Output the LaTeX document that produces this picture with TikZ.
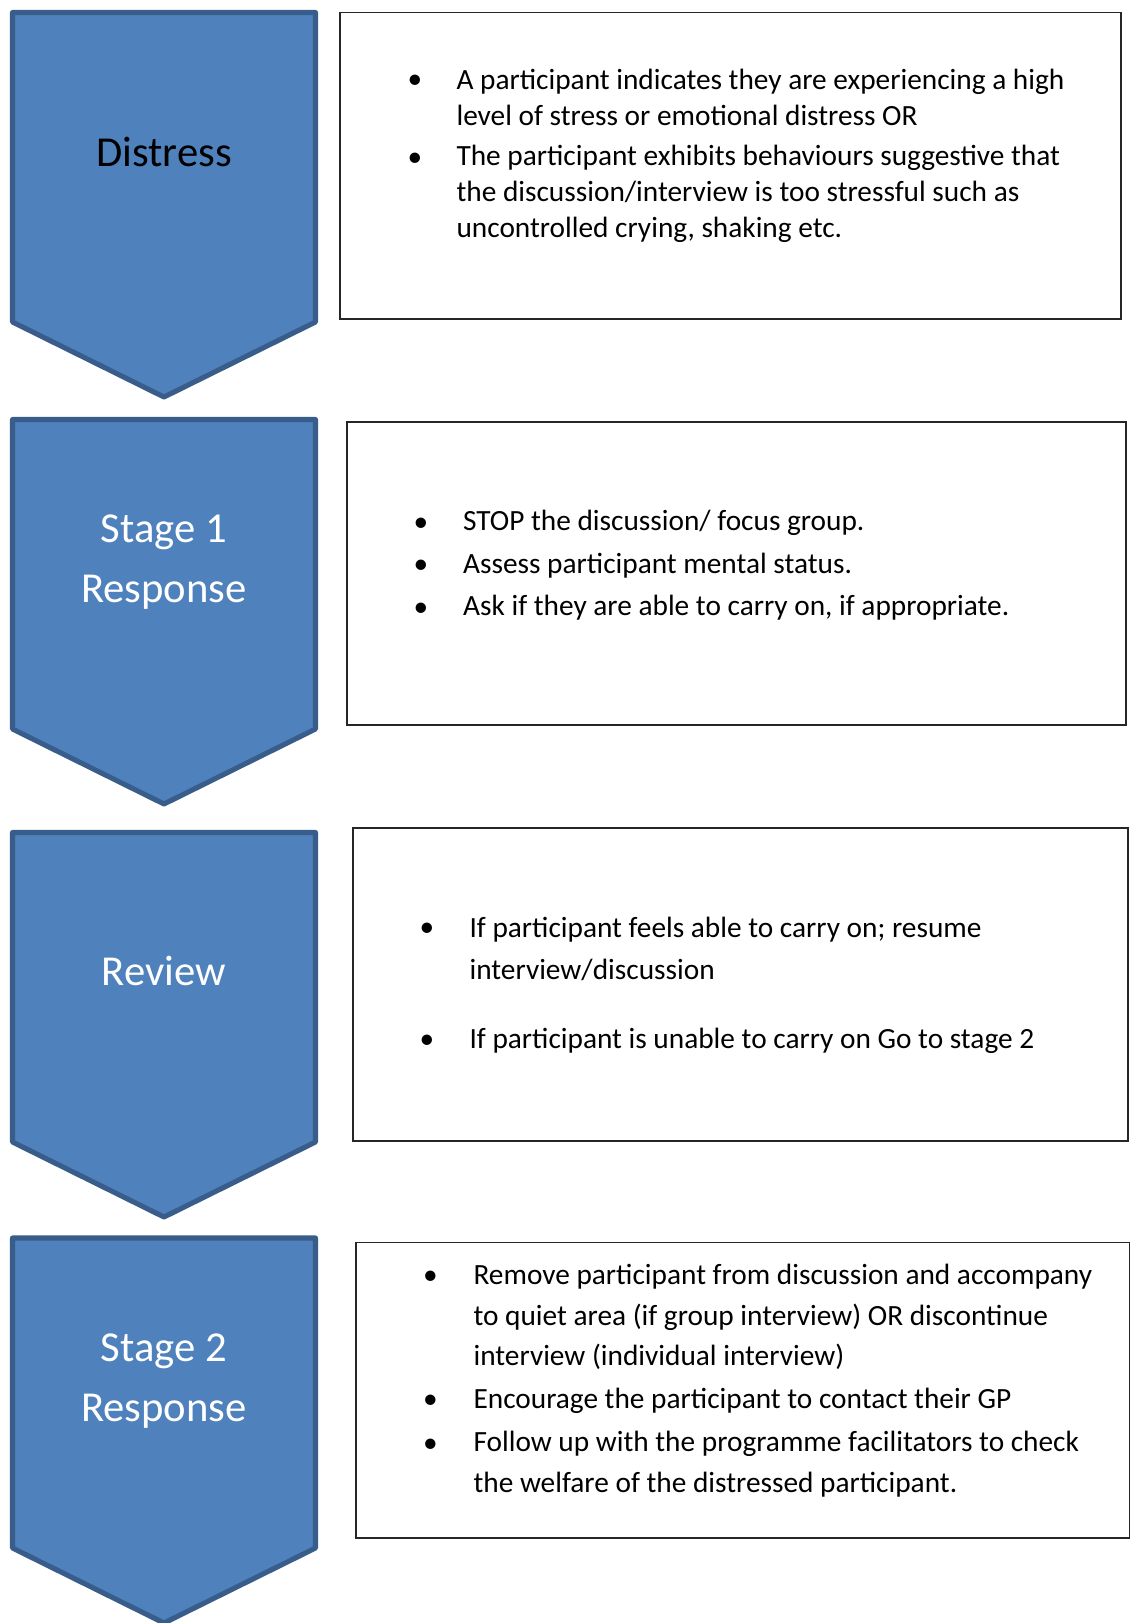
\documentclass[tikz,border=0pt]{standalone}
\usepackage{fontspec}
\setmainfont{Carlito}
\definecolor{chevfill}{RGB}{79,129,189}
\definecolor{chevline}{RGB}{56,93,138}

\begin{document}
\begin{tikzpicture}[x=0.375pt,y=-0.375pt,
  chev/.style={fill=chevfill,draw=chevline,line width=1.9pt,line join=round},
  infobox/.style={draw=black!85,line width=0.5pt},
  lbl/.style={font=\fontsize{16}{22.5}\selectfont,align=center,text=white},
  bul/.style={font=\fontsize{11}{13.5}\selectfont,inner sep=0},
  txt/.style={font=\fontsize{11}{13.5}\selectfont,align=left,anchor=mid west,inner sep=0}]
 \useasboundingbox (0,0) rectangle (1130,1623);
 % chevrons
 \draw[chev] (12.5,12.5) -- (315.5,12.5) -- (315.5,322) -- (164,397) -- (12.5,322) -- cycle;
 \draw[chev] (12.5,419.5) -- (315.5,419.5) -- (315.5,729) -- (164,804) -- (12.5,729) -- cycle;
 \draw[chev] (12.5,832.5) -- (315.5,832.5) -- (315.5,1142) -- (164,1217) -- (12.5,1142) -- cycle;
 \draw[chev] (12.5,1238) -- (315.5,1238) -- (315.5,1548) -- (164,1623) -- (12.5,1548) -- cycle;
 \node[lbl,text=black] (distress) at (164,152) {Distress};
 \node[lbl] (stage1) at (164,562) {Stage 1\\Response};
 \node[lbl] (review) at (164,971) {Review};
 \node[lbl] (stage2) at (164,1381) {Stage 2\\Response};
 % boxes
 \draw[infobox] (340,12.4) rectangle (1121,319);
 \draw[infobox] (347,422) rectangle (1126,725);
 \draw[infobox] (353,828) rectangle (1128,1141);
 \draw[infobox] (356,1242.7) rectangle (1129.5,1538);
 % box 1
 \node[bul] (d1b) at (415,82) {\textbullet};
 \node[bul] (d2b) at (415,160) {\textbullet};
 \node[txt,anchor=west] (d1) at (456,97.5) {A participant indicates they are experiencing a high\\level of stress or emotional distress OR};
 \node[txt,anchor=west] (d2) at (456,194) {The participant exhibits behaviours suggestive that\\the discussion/interview is too stressful such as\\uncontrolled crying, shaking etc.};
 % box 2
 \node[bul] (a1b) at (421,524.5) {\textbullet};
 \node[bul] (a2b) at (421,567) {\textbullet};
 \node[bul] (a3b) at (421,609.4) {\textbullet};
 \node[txt] (a1) at (462.6,524.5) {STOP the discussion/ focus group.};
 \node[txt] (a2) at (462.6,567) {Assess participant mental status.};
 \node[txt] (a3) at (462.6,609.4) {Ask if they are able to carry on, if appropriate.};
 % box 3
 \node[bul] (r1b) at (427,930) {\textbullet};
 \node[bul] (r2b) at (427,1042) {\textbullet};
 \node[txt,anchor=west,font=\fontsize{11}{15.56}\selectfont] (r1) at (469,949) {If participant feels able to carry on; resume\\interview/discussion};
 \node[txt] (r2) at (469,1042) {If participant is unable to carry on Go to stage 2};
 % box 4
 \node[bul] (s1b) at (430.5,1278) {\textbullet};
 \node[bul] (s2b) at (430.5,1402) {\textbullet};
 \node[bul] (s3b) at (430.5,1445.5) {\textbullet};
 \node[txt,anchor=west,font=\fontsize{11}{15.3}\selectfont] (s1) at (473,1317) {Remove participant from discussion and accompany\\to quiet area (if group interview) OR discontinue\\interview (individual interview)};
 \node[txt] (s2) at (473,1402) {Encourage the participant to contact their GP};
 \node[txt,anchor=west,font=\fontsize{11}{15.2}\selectfont] (s3) at (473,1464) {Follow up with the programme facilitators to check\\the welfare of the distressed participant.};
\end{tikzpicture}
\end{document}
